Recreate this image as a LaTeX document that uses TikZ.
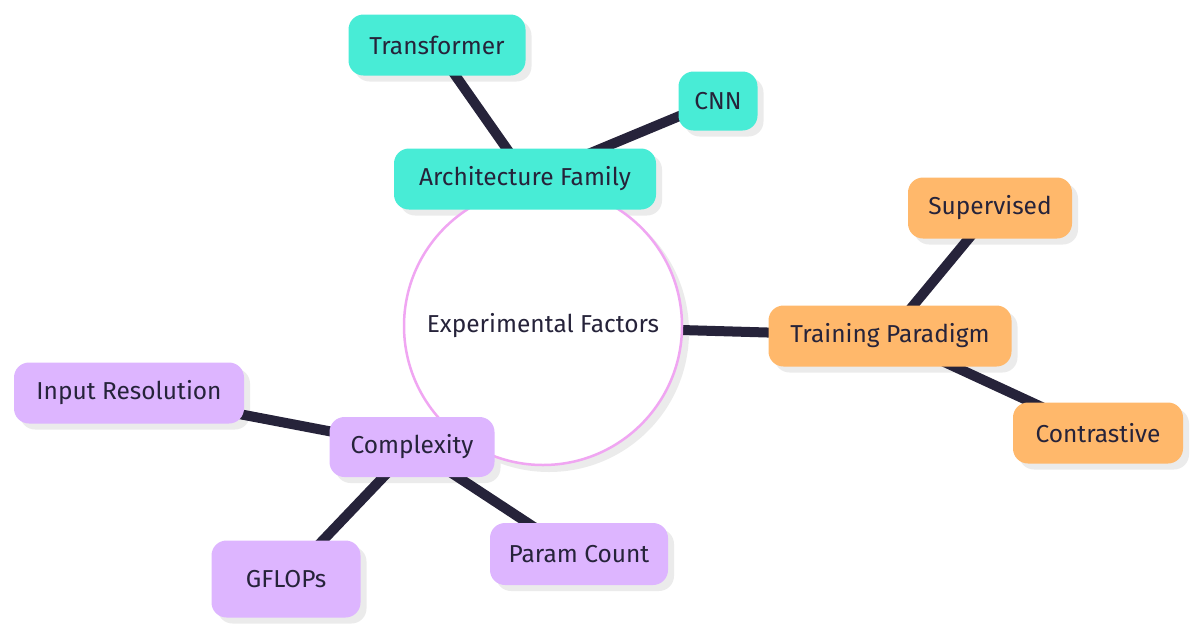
\documentclass[tikz,border=0pt]{standalone}
\usepackage{fontspec}
\setmainfont{Fira Sans}
\usetikzlibrary{backgrounds}
\definecolor{teal1}{HTML}{48ECD6}
\definecolor{orng}{HTML}{FFB86B}
\definecolor{purp}{HTML}{DDB5FF}
\definecolor{ink}{HTML}{26233A}
\definecolor{pinkline}{HTML}{F0A6F2}
\definecolor{shd}{HTML}{EBEBEB}
\tikzset{
  leaf/.style={rounded corners=15pt, text=ink, font=\fontsize{24.5}{28}\selectfont, minimum height=61pt, inner sep=0pt, anchor=center},
  tealbox/.style={leaf, fill=teal1},
  orngbox/.style={leaf, fill=orng},
  purpbox/.style={leaf, fill=purp},
  link/.style={draw=ink, line width=10pt},
  shadowbox/.style={rounded corners=15pt, fill=shd, draw=none}
}
\begin{document}
\begin{tikzpicture}[x=1pt,y=-1pt]
\useasboundingbox (0,0) rectangle (1200,635);
% shadows and edges
\fill[shd] (549,332) circle (140);
\foreach \x/\y/\w/\h in {437/45/177/61, 718/101/79/59, 525/179/262/61, 990/208/164/61, 890/336/243/61, 1098/433/170/61, 129/393/230/61, 412/447/165/60, 579/554/178/62, 286/579/149/77}{
  \fill[shd, rounded corners=15pt] (\x-\w/2+6,\y-\h/2+6) rectangle (\x+\w/2+6,\y+\h/2+6);
}
\coordinate (c) at (543,326);
\coordinate (tr) at (434,45);
\coordinate (cnn) at (718,100);
\coordinate (arch) at (528,179);
\coordinate (sup) at (994,208);
\coordinate (trn) at (888,336);
\coordinate (con) at (1098,433);
\coordinate (inp) at (129,393);
\coordinate (cpx) at (412,447);
\coordinate (par) at (575,554);
\coordinate (gfl) at (286,579);
\draw[link] (tr) -- (arch);
\draw[link] (cnn) -- (arch);
\draw[link] (arch) -- (c);
\draw[link] (c) -- (trn);
\draw[link] (sup) -- (trn);
\draw[link] (con) -- (trn);
\draw[link] (c) -- (cpx);
\draw[link] (inp) -- (cpx);
\draw[link] (gfl) -- (cpx);
\draw[link] (par) -- (cpx);
% center
\node[circle, draw=pinkline, line width=2.5pt, fill=white, minimum size=278pt, inner sep=0pt, text=ink, font=\fontsize{24.5}{28}\selectfont] (center) at (543,326) {Experimental Factors};
% nodes
\node[tealbox, minimum width=177pt] (transformer) at (437,45) {Transformer};
\node[tealbox, minimum width=79pt, minimum height=59pt] (cnnn) at (718,101) {CNN};
\node[tealbox, minimum width=262pt] (archn) at (525,179) {Architecture Family};
\node[orngbox, minimum width=164pt] (supn) at (990,208) {Supervised};
\node[orngbox, minimum width=243pt] (trnn) at (890,336) {Training Paradigm};
\node[orngbox, minimum width=170pt] (conn) at (1098,433) {Contrastive};
\node[purpbox, minimum width=230pt] (inpn) at (129,393) {Input Resolution};
\node[purpbox, minimum width=165pt, minimum height=60pt] (cpxn) at (412,447) {Complexity};
\node[purpbox, minimum width=178pt, minimum height=62pt] (parn) at (579,554) {Param Count};
\node[purpbox, minimum width=149pt, minimum height=77pt] (gfln) at (286,579) {GFLOPs};
\end{tikzpicture}
\end{document}
